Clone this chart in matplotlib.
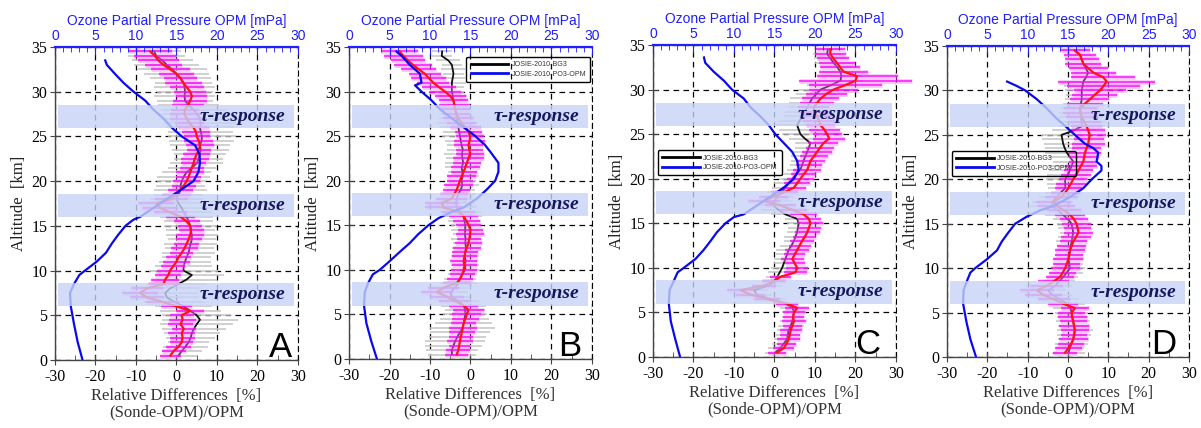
import numpy as np
import matplotlib
matplotlib.use("Agg")
import matplotlib.pyplot as plt
from matplotlib.lines import Line2D
from matplotlib.ticker import MultipleLocator

plt.rcParams["axes.unicode_minus"] = False

# Altitude levels of the averaged profiles [km]
alt = np.arange(0.5, 34.51, 0.5)

# ---------------- Panel A ----------------
a_red = [-1.5, -0.7, 0.5, 1.3, 1.5, 1.3, 1.8, 1.0, 1.5, 1.3,
         3.4, 0.0, -3.5, -7.3, -9.0, -7.3, -3.2, -2.8, -2.0, -1.6,
         -0.8, 0.0, 0.5, 1.3, 2.0, 2.5, 3.0, 3.4, 3.6, 3.4,
         2.5, 1.0, -1.5, -4.0, -5.0, -1.2, 0.0, 1.0, 1.8, 2.5,
         3.0, 3.4, 3.8, 4.2, 4.5, 5.0, 5.5, 5.8, 5.5, 5.0,
         4.8, 4.2, 3.2, 2.5, 2.0, 2.1, 2.8, 3.4, 3.8, 3.4,
         2.5, 1.7, 1.0, 0.0, -1.5, -3.2, -4.5, -5.3, -6.5]
a_black = [0.5, 1.3, 2.2, 3.0, 3.5, 3.8, 4.3, 5.0, 5.8, 5.0,
           3.4, 1.7, -0.5, -2.4, -2.8, -1.6, 0.5, 2.5, 3.8, 1.7,
           1.8, 2.1, 2.5, 3.0, 3.2, 3.5, 3.8, 3.8, 3.5, 3.4,
           3.0, 2.5, 1.8, 1.3, 0.5, 0.0, 0.5, 1.0, 1.0, 1.3,
           1.8, 2.5, 3.8, 5.0, 5.5, 5.8, 6.0, 5.8, 6.2, 6.3,
           6.0, 5.8, 6.0, 5.8, 5.0, 4.2, 3.0, 2.1, 2.0, 2.1,
           2.0, 1.7, 1.0, 0.0, -1.0, -2.4, -3.5, -5.0, -5.5]
a_pink = [2.5, 3.0, 3.2, 2.8, 3.0, 3.3, 2.9, 3.1, 3.4, 3.0,
          3.5, 3.8, 4.0, 4.2, 4.5, 4.0, 3.8, 3.5, 3.2, 3.3,
          3.0, 3.4, 3.1, 2.9, 3.3, 3.0, 3.2, 3.5, 3.1, 3.0,
          3.2, 3.6, 4.0, 4.4, 4.5, 4.0, 3.5, 3.2, 3.0, 3.3,
          3.1, 3.4, 3.0, 3.2, 3.5, 3.3, 3.0, 3.4, 3.6, 3.2,
          3.5, 3.8, 3.6, 4.0, 3.7, 3.5, 3.9, 4.2, 3.8, 4.0,
          4.2, 4.5, 4.0, 4.3, 4.8, 4.5, 5.0, 5.2, 5.5]
a_gray = [4.5, 5.0, 5.5, 5.0, 6.0, 7.0, 8.0, 9.0, 9.5, 8.5,
          7.5, 7.0, 7.5, 8.0, 8.0, 7.5, 7.0, 7.5, 8.0, 8.5,
          7.0, 6.5, 6.0, 6.5, 6.0, 6.5, 6.0, 6.5, 6.0, 6.5,
          6.0, 6.5, 7.0, 7.5, 7.0, 6.5, 6.0, 6.5, 6.0, 6.0,
          6.5, 6.0, 6.0, 6.5, 6.0, 6.5, 7.0, 7.5, 8.0, 8.5,
          8.0, 8.5, 9.0, 9.5, 8.5, 8.0, 7.5, 7.0, 7.5, 7.0,
          7.5, 7.0, 7.5, 8.0, 8.5, 8.0, 7.5, 7.0, 6.5]
a_o3_alt = [0, 2, 4, 6, 7.5, 8.5, 9.5, 10, 11, 12, 13, 14, 15, 15.7, 16, 17, 18,
            19, 20, 21, 22, 23, 24, 25, 26, 27, 28, 29, 30, 31, 32, 33, 33.5]
a_o3 = [3.4, 2.8, 2.35, 1.95, 1.85, 2.35, 3.0, 3.7, 5.15, 6.3, 7.0, 7.8, 8.7, 9.7,
        10.5, 12.15, 13.8, 15.5, 17.1, 17.7, 17.9, 17.85, 17.3, 15.65, 14.4, 13.4,
        12.15, 11.15, 9.7, 8.45, 7.4, 6.4, 6.2]

# ---------------- Panel B ----------------
b_red = [-3.4, -3.0, -2.8, -2.6, -2.4, -2.1, -1.9, -1.7, -1.3, -0.9,
         -0.5, -1.7, -3.8, -5.9, -8.3, -6.7, -3.4, -2.6, -2.0, -1.7,
         -1.5, -1.7, -1.5, -1.3, -0.9, -0.5, -0.3, -0.1, 0.0, -0.5,
         -1.0, -1.7, -3.0, -6.7, -7.1, -4.6, -4.0, -3.4, -3.0, -2.6,
         -2.2, -1.7, -1.3, -0.9, -0.5, -0.1, -0.3, -0.5, -0.2, -0.1,
         -0.5, -1.3, -2.2, -3.0, -3.4, -3.8, -4.0, -4.2, -5.0, -6.3,
         -7.8, -9.2, -10.3, -11.3, -12.8, -14.2, -15.5, -16.6, -17.5]
b_black = [-4.6, -4.6, -4.2, -3.8, -3.2, -2.6, -2.0, -1.7, -1.5, -1.3,
           -1.3, -1.7, -3.0, -4.6, -5.0, -3.8, -3.0, -2.6, -2.0, -1.3,
           -1.3, -1.2, -1.4, -1.3, -1.1, -1.3, -1.2, -1.4, -1.3, -1.3,
           -1.5, -1.7, -2.5, -3.4, -3.6, -3.4, -3.0, -2.4, -2.0, -2.2,
           -1.9, -2.0, -2.2, -1.8, -2.0, -2.1, -1.9, -2.2, -2.4, -2.6,
           -2.8, -3.0, -3.2, -3.4, -3.6, -3.8, -4.0, -4.2, -4.4, -4.6,
           -4.6, -4.6, -4.4, -4.2, -4.4, -4.6, -5.5, -7.1, -7.0]
b_pink = [2.8, 3.0, 2.6, 3.2, 2.9, 3.1, 3.4, 3.0, 3.3, 3.6,
          3.8, 3.5, 3.9, 4.2, 4.0, 3.8, 3.5, 3.3, 3.0, 3.2,
          3.1, 3.4, 3.0, 3.2, 3.5, 3.3, 3.0, 3.4, 3.2, 3.1,
          3.3, 3.6, 4.0, 4.5, 4.2, 3.8, 3.5, 3.4, 3.6, 3.3,
          3.5, 3.2, 3.6, 3.4, 3.8, 3.5, 3.3, 3.6, 3.9, 3.5,
          3.4, 3.8, 3.5, 3.7, 3.4, 3.6, 3.9, 3.5, 3.8, 4.0,
          4.2, 3.9, 4.3, 4.0, 4.4, 4.6, 4.2, 4.8, 4.5]
b_gray = [6.0, 6.5, 7.0, 7.5, 7.0, 7.5, 8.0, 7.0, 6.0, 5.5,
          5.0, 5.5, 5.0, 4.5, 4.5, 4.0, 4.5, 4.0, 3.5, 3.5,
          3.5, 3.0, 3.5, 3.0, 3.5, 3.0, 3.5, 3.0, 3.5, 3.5,
          4.0, 4.5, 5.0, 5.0, 4.5, 4.0, 4.0, 3.5, 4.0, 3.5,
          4.0, 3.5, 4.0, 4.5, 4.0, 4.5, 4.0, 3.5, 4.0, 4.5,
          4.0, 4.5, 5.0, 4.5, 4.0, 3.5, 3.5, 3.0, 3.5, 3.0,
          3.0, 3.5, 3.0, 2.5, 3.0, 2.5, 3.0, 2.5, 2.5]
b_o3_alt = [0, 2, 4, 6, 7.5, 8.5, 9.5, 10, 11, 12, 13, 14, 15, 15.8, 16.5, 17, 18,
            19, 20, 21, 22, 23, 24, 25, 26, 27, 28, 29, 30, 30.7, 31, 32, 33, 34, 34.5]
b_o3 = [3.45, 2.75, 2.15, 1.85, 1.95, 2.35, 2.95, 3.8, 5.05, 6.25, 7.5, 8.55, 9.8,
        11.05, 12.7, 14.15, 15.8, 17.0, 18.05, 18.45, 18.45, 17.65, 16.8, 15.6,
        14.15, 12.7, 11.25, 10.2, 8.95, 8.15, 8.95, 8.75, 7.5, 6.5, 5.85]

# ---------------- Panel C ----------------
c_red = [0.7, 2.3, 3.0, 3.5, 3.8, 4.0, 4.4, 4.8, 4.6, 4.8,
         5.6, 3.1, -1.8, -5.9, -8.4, -2.6, -0.2, 1.5, 5.2, 5.6,
         5.0, 4.4, 5.0, 5.6, 6.2, 6.8, 7.5, 8.1, 8.5, 8.9,
         8.5, 7.2, 4.5, 1.5, -2.6, -0.2, 2.5, 4.8, 5.6, 6.4,
         7.2, 8.1, 8.5, 8.9, 9.7, 10.5, 11.3, 12.1, 13.5, 13.0,
         12.3, 11.4, 11.0, 10.5, 10.0, 9.7, 10.5, 11.4, 12.8, 14.6,
         17.5, 20.0, 20.4, 17.1, 16.2, 15.4, 14.5, 13.8, 13.8]
c_black = [0.2, 1.5, 2.3, 3.1, 3.3, 3.5, 4.0, 4.4, 4.6, 4.8,
           4.5, 2.7, -1.0, -4.3, -5.1, -1.4, 0.0, 0.7, 1.3, 1.9,
           2.3, 2.7, 3.1, 3.5, 4.2, 4.8, 5.2, 5.6, 5.8, 6.0,
           5.6, 2.7, 1.0, -0.2, 0.0, 0.7, 1.7, 2.7, 3.5, 4.4,
           5.4, 6.4, 6.8, 7.2, 7.6, 8.1, 8.5, 8.9, 7.5, 6.4,
           6.0, 5.6, 6.2, 6.8, 7.5, 8.1, 8.7, 9.3, 10.3, 11.4,
           14.0, 16.3, 16.5, 16.3, 15.5, 14.6, 13.8, 13.0, 13.2]
c_pink = [2.2, 2.6, 2.4, 2.8, 2.5, 2.7, 2.4, 2.9, 2.6, 2.8,
          3.0, 2.8, 3.2, 3.5, 3.4, 3.0, 2.8, 2.6, 2.9, 2.7,
          2.5, 2.8, 2.6, 2.9, 2.7, 3.0, 2.8, 3.1, 2.9, 3.2,
          3.0, 3.3, 3.5, 3.8, 4.0, 3.6, 3.3, 3.0, 3.2, 3.4,
          3.1, 3.5, 3.3, 3.6, 3.4, 3.8, 3.5, 3.7, 4.0, 3.6,
          3.8, 3.5, 3.9, 3.6, 4.0, 3.8, 4.2, 4.5, 5.0, 6.0,
          9.0, 14.0, 10.0, 6.0, 5.0, 4.5, 4.0, 3.8, 3.5]
c_gray = [2.5, 3.0, 2.8, 3.2, 3.0, 2.8, 3.2, 3.0, 2.8, 3.0,
          3.2, 3.0, 3.5, 3.8, 3.5, 3.2, 3.0, 2.8, 3.0, 2.8,
          2.5, 2.8, 2.6, 3.0, 2.8, 2.5, 2.8, 2.6, 2.5, 2.8,
          3.0, 3.5, 4.0, 4.5, 4.5, 4.0, 3.5, 3.2, 3.5, 3.2,
          3.0, 3.3, 3.0, 3.2, 3.5, 3.2, 3.5, 3.8, 4.0, 4.5,
          5.0, 5.5, 5.0, 4.5, 4.8, 4.5, 5.0, 5.5, 5.0, 5.5,
          6.0, 5.5, 5.0, 4.5, 4.0, 4.5, 4.0, 3.5, 3.5]
c_o3_alt = [0, 2, 4, 6, 7.5, 8.5, 9.5, 10, 11, 12, 13, 14, 15, 15.7, 16, 17, 18,
            19, 20, 21, 22, 23, 24, 25, 26, 27, 28, 29, 30, 31, 32, 33, 33.6]
c_o3 = [3.35, 2.75, 2.2, 1.95, 2.05, 2.55, 3.05, 3.8, 5.25, 6.25, 7.1, 7.9, 8.95,
        10.0, 11.2, 12.85, 14.5, 16.15, 17.4, 18.0, 17.8, 17.2, 16.15, 15.1, 14.3,
        13.25, 12.05, 11.2, 9.75, 8.75, 7.5, 6.45, 6.3]

# ---------------- Panel D ----------------
d_red = [-0.7, 0.1, 0.8, 1.3, 1.5, 1.7, 1.5, 1.3, 1.0, 0.9,
         1.7, -1.2, -3.5, -6.1, -7.7, -5.3, -3.6, -2.0, -1.3, -0.7,
         -0.3, 0.1, 0.3, 0.5, 0.9, 1.3, 2.0, 2.6, 2.4, 2.1,
         1.5, 0.5, -1.0, -2.8, -3.6, -1.6, -0.7, 0.1, 0.7, 1.3,
         2.0, 2.6, 3.2, 3.8, 4.0, 4.2, 4.6, 5.0, 5.2, 5.4,
         5.0, 4.6, 4.0, 3.4, 3.2, 3.0, 4.2, 5.4, 6.6, 7.9,
         8.8, 9.6, 8.7, 6.3, 5.0, 3.8, 3.4, 3.0, 1.7]
d_black = [0.1, 0.5, 0.9, 1.3, 1.5, 1.7, 1.5, 1.3, 1.1, 0.9,
           0.6, -0.3, -2.0, -4.0, -4.9, -3.2, -2.2, -1.2, -0.3, 0.5,
           0.3, 0.1, 0.3, 0.5, 0.7, 0.9, 1.1, 1.3, 1.1, 0.9,
           0.0, -1.2, -2.5, -4.0, -3.8, -2.8, -1.8, -0.7, -0.7, -0.7,
           -0.1, 0.5, 0.9, 1.3, 0.5, -0.3, -0.8, -1.2, -1.4, -1.6,
           1.5, 3.5, 3.4, 3.2, 3.0, 3.0, 3.2, 3.4, 3.4, 3.4,
           3.6, 3.8, 4.5, 5.0, 4.4, 3.8, 3.4, 3.0, 1.7]
d_pink = [3.0, 3.4, 3.2, 3.6, 3.3, 3.5, 3.8, 3.4, 3.6, 3.3,
          3.5, 3.8, 4.0, 4.5, 4.3, 4.0, 3.8, 3.5, 3.3, 3.6,
          3.4, 3.7, 3.5, 3.8, 3.6, 3.4, 3.8, 3.5, 3.3, 3.6,
          3.4, 3.8, 4.2, 4.6, 4.4, 4.0, 3.6, 3.4, 3.7, 3.5,
          3.8, 3.6, 3.9, 3.5, 3.8, 4.0, 3.7, 4.1, 3.8, 4.0,
          4.2, 3.9, 4.3, 4.0, 4.4, 4.1, 4.5, 4.8, 5.5, 6.5,
          9.0, 12.0, 8.0, 5.5, 4.8, 4.5, 4.2, 4.0, 3.8]
d_gray = [4.0, 3.5, 4.0, 3.8, 4.2, 4.5, 4.0, 4.2, 3.8, 4.0,
          4.2, 4.5, 4.8, 5.0, 4.5, 4.2, 4.0, 3.8, 4.0, 3.6,
          3.5, 3.8, 3.5, 3.2, 3.5, 3.8, 3.5, 3.2, 3.5, 3.6,
          3.8, 4.5, 5.0, 5.5, 5.0, 4.5, 4.0, 4.2, 4.5, 4.8,
          5.0, 5.2, 5.5, 5.0, 5.2, 5.5, 5.0, 4.8, 5.0, 5.2,
          5.5, 5.8, 6.0, 5.5, 5.2, 4.8, 4.5, 4.2, 4.0, 4.2,
          4.5, 4.0, 3.8, 3.5, 3.8, 3.5, 3.2, 3.0, 3.0]
d_o3_alt = [0, 2, 4, 6, 7.5, 8.5, 9.5, 10, 11, 12, 13, 14, 15, 15.8, 16.5, 17, 18,
            19, 20, 21, 21.5, 22, 23, 23.5, 24, 25, 26, 27, 28, 29, 30, 30.5, 31]
d_o3 = [3.6, 2.9, 2.4, 2.0, 2.05, 2.45, 2.9, 3.5, 4.95, 6.2, 6.8, 7.6, 8.45, 9.9,
        11.55, 13.2, 15.25, 16.9, 17.95, 19.15, 19.15, 18.55, 18.75, 18.15, 17.1,
        15.85, 14.65, 13.4, 12.35, 11.15, 9.7, 8.65, 7.45]

# Altitude ranges affected by the sensor time response [km]
tau_bands = [(6.0, 8.6), (16.0, 18.6), (25.9, 28.5)]
tau_label = "\u03c4-response"

legend_labels = ["JOSIE-2010-BG3", "JOSIE-2010-PO3-OPM"]

panels = [
    dict(letter="A", red=a_red, black=a_black, pink=a_pink, gray=a_gray,
         o3_alt=a_o3_alt, o3=a_o3, rect=[0.0458, 0.1589, 0.2023, 0.7313],
         letter_x=28.6, legend=None),
    dict(letter="B", red=b_red, black=b_black, pink=b_pink, gray=b_gray,
         o3_alt=b_o3_alt, o3=b_o3, rect=[0.2906, 0.1612, 0.2023, 0.7290],
         letter_x=27.4, legend=dict(loc="upper right", bbox_to_anchor=(0.993, 0.968))),
    dict(letter="C", red=c_red, black=c_black, pink=c_pink, gray=c_gray,
         o3_alt=c_o3_alt, o3=c_o3, rect=[0.5437, 0.1659, 0.2023, 0.7290],
         letter_x=26.2, legend=dict(loc="upper left", bbox_to_anchor=(0.02, 0.662))),
    dict(letter="D", red=d_red, black=d_black, pink=d_pink, gray=d_gray,
         o3_alt=d_o3_alt, o3=d_o3, rect=[0.7885, 0.1659, 0.2015, 0.7266],
         letter_x=26.9, legend=dict(loc="upper left", bbox_to_anchor=(0.02, 0.662))),
]

BLUE = "#0a0aee"
TOP_BLUE = "#1f1fff"
SERIF = "Liberation Serif"
SANS = "Liberation Sans"

fig = plt.figure(figsize=(12.01, 4.28), dpi=100)

for p in panels:
    ax = fig.add_axes(p["rect"])
    ax.set_xlim(-30, 30)
    ax.set_ylim(0, 35)
    ax.set_axisbelow(True)

    # dashed grid
    ax.xaxis.set_major_locator(MultipleLocator(10))
    ax.xaxis.set_minor_locator(MultipleLocator(5))
    ax.yaxis.set_major_locator(MultipleLocator(5))
    ax.grid(True, which="major", color="black", lw=0.9, linestyle=(0, (4.5, 3.5)))

    red = np.asarray(p["red"])
    black = np.asarray(p["black"])
    pink = np.asarray(p["pink"])
    gray = np.asarray(p["gray"])

    ax.hlines(alt, black - gray, black + gray, color="#c4c4c4", lw=1.1, zorder=2)
    ax.plot(black, alt, color="#111111", lw=1.3, zorder=3)
    # spread of the second sonde group: soft fill plus the individual bars
    ax.hlines(alt, red - pink, red + pink, color="#f27ff2", lw=3.4, alpha=0.45,
              zorder=4, clip_on=False)
    ax.hlines(alt, red - pink, red + pink, color="#ff00ff", lw=1.1, alpha=0.9,
              zorder=4, clip_on=False)
    ax.plot(red, alt, color="#ff1212", lw=1.6, zorder=5)

    for s in ("left", "bottom"):
        ax.spines[s].set_color("#444444")
        ax.spines[s].set_linewidth(1.0)
    ax.spines["top"].set_visible(False)
    ax.spines["right"].set_linestyle((0, (4.5, 3.5)))
    ax.spines["right"].set_color("black")

    ax.tick_params(axis="x", which="major", direction="inout", length=7,
                   color="#444444", labelsize=11.5, pad=3, top=False)
    ax.tick_params(axis="x", which="minor", direction="in", length=3.5,
                   color="#444444", top=False)
    ax.tick_params(axis="y", which="major", direction="inout", length=7,
                   color="#444444", labelsize=11.5, pad=2, right=False)
    for lab in ax.get_xticklabels() + ax.get_yticklabels():
        lab.set_fontfamily(SERIF)

    ax.set_xlabel("Relative Differences  [%]\n(Sonde-OPM)/OPM", fontsize=12,
                  family=SERIF, color="#333333", labelpad=2, linespacing=1.05)
    ax.set_ylabel("Altitude  [km]", fontsize=12, family=SERIF, color="#222222",
                  labelpad=3)

    # ozone partial pressure on the top scale
    ax2 = ax.twiny()
    ax2.set_xlim(0, 30)
    ax2.xaxis.set_major_locator(MultipleLocator(5))
    ax2.xaxis.set_minor_locator(MultipleLocator(1))
    ax2.tick_params(axis="x", which="major", direction="in", length=6,
                    color=TOP_BLUE, labelcolor=TOP_BLUE, labelsize=10, pad=3)
    ax2.tick_params(axis="x", which="minor", direction="in", length=3.5,
                    color=TOP_BLUE)
    for lab in ax2.get_xticklabels():
        lab.set_fontfamily(SANS)
    ax2.set_xlabel("Ozone Partial Pressure OPM [mPa]", fontsize=10, family=SANS,
                   color=TOP_BLUE, labelpad=3)
    for s in ("left", "right", "bottom"):
        ax2.spines[s].set_visible(False)
    ax2.spines["top"].set_color(TOP_BLUE)
    ax2.spines["top"].set_linewidth(1.6)

    ax2.plot(p["o3"], p["o3_alt"], color=BLUE, lw=1.6, zorder=2)

    for lo, hi in tau_bands:
        ax2.axhspan(lo, hi, xmin=0.012, xmax=0.983, color="#c7d4f7", alpha=0.8,
                    lw=0, zorder=3)
        ax2.text(16.3, (lo + hi) / 2, tau_label, transform=ax.transData,
                 ha="center", va="center", fontsize=14, family=SERIF,
                 fontweight="bold", fontstyle="italic", color="#16165e", zorder=4)

    ax2.text(p["letter_x"], 0.3, p["letter"], transform=ax.transData, ha="right",
             va="baseline", fontsize=25, family=SANS, color="black", zorder=5)

    if p["legend"] is not None:
        handles = [Line2D([], [], color="black", lw=2),
                   Line2D([], [], color=BLUE, lw=2)]
        leg = ax2.legend(handles, legend_labels, fontsize=5.1, frameon=True,
                         fancybox=True, handlelength=5.3, borderpad=0.6,
                         labelspacing=0.35, handletextpad=0.45, borderaxespad=0,
                         **p["legend"])
        frame = leg.get_frame()
        frame.set_facecolor("none")
        frame.set_edgecolor("black")
        frame.set_alpha(None)
        frame.set_linewidth(1.0)
        for t in leg.get_texts():
            t.set_color("#333333")
            t.set_fontfamily(SANS)

fig.savefig("out.png", dpi=100)
